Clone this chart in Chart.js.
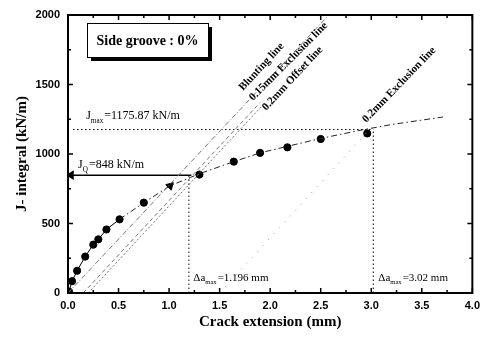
<!DOCTYPE html>
<html>
<head>
<meta charset="utf-8">
<script src="https://cdn.jsdelivr.net/npm/chart.js@4/dist/chart.umd.min.js"></script>
<style>
  html, body { margin: 0; padding: 0; background: #fff; }
</style>
</head>
<body>
<canvas id="jrCurve" width="486" height="338"></canvas>
<script>
// J-R curve, measured points (crack extension in mm, J in kN/m)
const crackExt = [0.01, 0.04, 0.09, 0.17, 0.25, 0.30, 0.38, 0.51, 0.75, 1.30, 1.64, 1.90, 2.17, 2.50, 2.96];
const jIntegral = [10, 85, 160, 262, 348, 386, 457, 530, 650, 852, 945, 1008, 1048, 1108, 1148];

// point where the blunting line meets the curve
const triExt = [1.01];
const triJ = [771];

// power-law fit drawn through the data
const fitExt = [0.51, 0.75, 1.01, 1.30, 1.64, 1.90, 2.17, 2.50, 2.90, 3.20, 3.71];
const fitJ = [530, 650, 771, 858, 945, 1008, 1055, 1112, 1172, 1212, 1266];

// construction lines (end points)
const bluntExt = [0, 2.58];
const bluntJ = [0, 2000];
const excl015Ext = [0.15, 1.90];
const excl015J = [0, 1370];
const offset02Ext = [0.20, 1.95];
const offset02J = [0, 1370];
const excl02Ext = [1.50, 3.00];
const excl02J = [0, 1190];

// characteristic values
const jQ = 848;
const jMax = 1175.87;
const daQ = 1.196;
const daMax = 3.02;

const xTicks = [0, 0.25, 0.5, 0.75, 1, 1.25, 1.5, 1.75, 2, 2.25, 2.5, 2.75, 3, 3.25, 3.5, 3.75, 4];
const yTicks = [0, 250, 500, 750, 1000, 1250, 1500, 1750, 2000];

const pts = (xs, ys) => xs.map((v, i) => ({ x: v, y: ys[i] }));

const SERIF = '"Liberation Serif", "Times New Roman", serif';
const SANS = '"Liberation Sans", Arial, sans-serif';

function subText(ctx, px, py, main, sub, rest, size) {
  ctx.font = `${size}px ${SERIF}`;
  ctx.fillText(main, px, py);
  let w = ctx.measureText(main).width;
  ctx.font = `${size * 0.6}px ${SERIF}`;
  ctx.fillText(sub, px + w, py + size * 0.3);
  w += ctx.measureText(sub).width + 1;
  ctx.font = `${size}px ${SERIF}`;
  ctx.fillText(rest, px + w, py);
}

const frameAndNotes = {
  id: 'frameAndNotes',
  afterDraw(chart) {
    const { ctx, chartArea: a, scales: { x, y } } = chart;
    ctx.save();
    ctx.strokeStyle = '#000';
    ctx.fillStyle = '#000';

    // plot frame
    ctx.lineWidth = 2;
    ctx.strokeRect(a.left, a.top, a.right - a.left, a.bottom - a.top);

    // inward ticks on all four sides
    ctx.lineWidth = 1.5;
    ctx.beginPath();
    xTicks.forEach((v, i) => {
      const px = x.getPixelForValue(v);
      const len = i % 2 === 0 ? 5 : 3;
      ctx.moveTo(px, a.bottom); ctx.lineTo(px, a.bottom - len);
      ctx.moveTo(px, a.top); ctx.lineTo(px, a.top + len);
    });
    yTicks.forEach((v, i) => {
      const py = y.getPixelForValue(v);
      const len = i % 2 === 0 ? 5 : 3;
      ctx.moveTo(a.left, py); ctx.lineTo(a.left + len, py);
      ctx.moveTo(a.right, py); ctx.lineTo(a.right - len, py);
    });
    ctx.stroke();

    // "Side groove" box with drop shadow
    const bx = a.left + 19, by = a.top + 8, bw = 121, bh = 34;
    ctx.fillRect(bx + 4, by + 4, bw, bh);
    ctx.fillStyle = '#fff';
    ctx.fillRect(bx, by, bw, bh);
    ctx.lineWidth = 1;
    ctx.strokeRect(bx + 0.5, by + 0.5, bw, bh);
    ctx.fillStyle = '#000';
    ctx.font = `bold 14px ${SERIF}`;
    ctx.textAlign = 'center';
    ctx.textBaseline = 'middle';
    ctx.fillText('Side groove : 0%', bx + bw / 2, by + bh / 2 + 1);

    // value labels
    ctx.textAlign = 'left';
    ctx.textBaseline = 'alphabetic';
    subText(ctx, x.getPixelForValue(0.18), y.getPixelForValue(1252), 'J', 'max', '=1175.87 kN/m', 12);
    subText(ctx, x.getPixelForValue(0.10), y.getPixelForValue(899), 'J', 'Q', '=848 kN/m', 12);
    subText(ctx, x.getPixelForValue(1.24), y.getPixelForValue(86), '\u0394a', 'max', '=1.196 mm', 11);
    subText(ctx, x.getPixelForValue(3.07), y.getPixelForValue(86), '\u0394a', 'max', '=3.02 mm', 11);

    // rotated line names
    ctx.font = `bold 11px ${SERIF}`;
    [
      ['Blunting line', 1.73, 1453, -47],
      ['0.15mm Exclusion line', 1.83, 1381, -45],
      ['0.2mm Offset line', 1.96, 1309, -47],
      ['0.2mm Exclusion line', 2.95, 1223, -46]
    ].forEach(([t, dx, dy, ang]) => {
      ctx.save();
      ctx.translate(x.getPixelForValue(dx), y.getPixelForValue(dy));
      ctx.rotate(ang * Math.PI / 180);
      ctx.fillText(t, 0, 0);
      ctx.restore();
    });
    ctx.restore();
  }
};

const thin = { showLine: true, pointRadius: 0, borderWidth: 1, fill: false };

new Chart(document.getElementById('jrCurve'), {
  type: 'scatter',
  data: {
    datasets: [
      { ...thin, data: pts(bluntExt, bluntJ), borderColor: '#777', borderDash: [5, 2, 1, 2] },
      { ...thin, data: pts(excl015Ext, excl015J), borderColor: '#777', borderDash: [4, 3] },
      { ...thin, data: pts(offset02Ext, offset02J), borderColor: '#777', borderDash: [2, 2] },
      { ...thin, data: pts(excl02Ext, excl02J), borderColor: '#999', borderDash: [1, 7] },
      { ...thin, data: pts(fitExt, fitJ), borderColor: '#222', borderDash: [6, 3, 1.5, 3] },
      { ...thin, data: pts([0.05, daMax], [jMax, jMax]), borderColor: '#000', borderDash: [1.5, 2.5] },
      { ...thin, data: pts([daQ, daQ], [0, jQ]), borderColor: '#000', borderDash: [1.5, 2.5] },
      { ...thin, data: pts([daMax, daMax], [0, jMax]), borderColor: '#000', borderDash: [1.5, 2.5] },
      {
        ...thin, data: pts([0.03, 1.22], [jQ, jQ]), borderColor: '#000', borderWidth: 1.5,
        pointStyle: 'triangle', pointRadius: [4, 0], rotation: [-90, 0],
        pointBackgroundColor: '#000', pointBorderColor: '#000'
      },
      {
        data: pts(triExt, triJ), pointStyle: 'triangle', pointRadius: 4.5,
        pointBackgroundColor: '#000', pointBorderColor: '#000', rotation: 45
      },
      {
        data: pts(crackExt, jIntegral), showLine: true, borderWidth: 1,
        borderColor: '#000', pointRadius: 3.6,
        pointBackgroundColor: '#000', pointBorderColor: '#000',
        segment: { borderColor: c => (c.p1.parsed.x > 0.52 ? 'rgba(0,0,0,0)' : '#000') }
      }
    ]
  },
  options: {
    responsive: false,
    animation: false,
    layout: { padding: { top: 15, right: 12, left: 0, bottom: 0 } },
    plugins: { legend: { display: false }, tooltip: { enabled: false } },
    scales: {
      x: {
        type: 'linear', min: 0, max: 4,
        afterFit: s => { s.height = 45; },
        grid: { display: false, drawTicks: false },
        border: { display: false },
        ticks: {
          stepSize: 0.5, padding: 6, color: '#000',
          font: { family: SANS, size: 11, weight: 'bold' },
          callback: v => v.toFixed(1)
        },
        title: {
          display: true, text: 'Crack extension (mm)', color: '#000',
          font: { family: SERIF, size: 15, weight: 'bold' },
          padding: { top: 0, bottom: 7 }
        }
      },
      y: {
        type: 'linear', min: 0, max: 2000,
        afterFit: s => { s.width = 68; },
        grid: { display: false, drawTicks: false },
        border: { display: false },
        ticks: {
          stepSize: 500, padding: 8, color: '#000',
          font: { family: SANS, size: 11, weight: 'bold' },
          callback: v => String(v)
        },
        title: {
          display: true, text: 'J- integral (kN/m)', color: '#000',
          font: { family: SERIF, size: 15, weight: 'bold' },
          padding: { top: 13, bottom: 0 }
        }
      }
    }
  },
  plugins: [frameAndNotes]
});
</script>
</body>
</html>
